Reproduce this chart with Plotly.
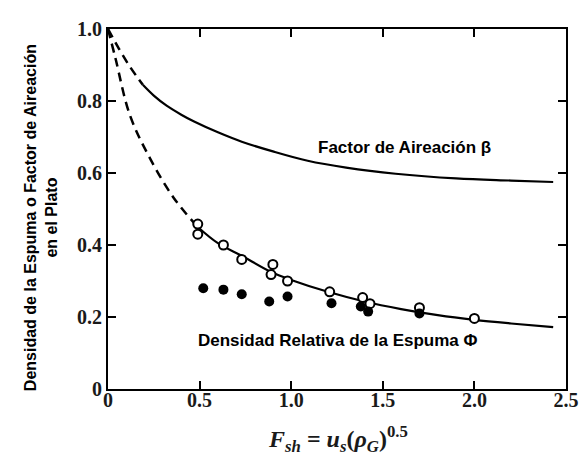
import plotly.graph_objects as go

# Data
beta_dash_F = [0.0, 0.06, 0.12, 0.19]
beta_dash = [1.0, 0.945, 0.895, 0.845]
beta_F = [0.19, 0.25, 0.32, 0.40, 0.47, 0.60, 0.73, 0.90, 1.09, 1.30, 1.57, 1.90, 2.20, 2.43]
beta = [0.845, 0.815, 0.787, 0.762, 0.743, 0.713, 0.687, 0.66, 0.634, 0.615, 0.598, 0.585, 0.579, 0.575]

phi_dash_F = [0.0, 0.04, 0.12, 0.23, 0.36, 0.49]
phi_dash = [1.0, 0.92, 0.76, 0.64, 0.53, 0.45]
phi_F = [0.49, 0.60, 0.73, 0.89, 1.00, 1.20, 1.40, 1.60, 1.80, 2.00, 2.20, 2.43]
phi = [0.45, 0.405, 0.37, 0.325, 0.303, 0.27, 0.243, 0.222, 0.205, 0.192, 0.182, 0.172]

F_open = [0.49, 0.49, 0.63, 0.73, 0.90, 0.89, 0.98, 1.21, 1.39, 1.43, 1.70, 2.00]
phi_open = [0.458, 0.43, 0.40, 0.36, 0.346, 0.318, 0.30, 0.27, 0.254, 0.237, 0.226, 0.196]
F_filled = [0.52, 0.63, 0.73, 0.88, 0.98, 1.22, 1.38, 1.42, 1.70]
phi_filled = [0.28, 0.276, 0.263, 0.243, 0.257, 0.238, 0.229, 0.215, 0.21]

x_tickvals = [0, 0.5, 1.0, 1.5, 2.0, 2.5]
x_ticktext = ["0", "0.5", "1.0", "1.5", "2.0", "2.5"]
y_tickvals = [0, 0.2, 0.4, 0.6, 0.8, 1.0]
y_ticktext = ["0", "0.2", "0.4", "0.6", "0.8", "1.0"]

label_beta = "Factor de Aireación β"
label_phi = "Densidad Relativa de la Espuma Φ"
y_title = "Densidad de la Espuma o Factor de Aireación<br>en el Plato"
x_title = "<b><i>F<sub>sh</sub></i> = <i>u<sub>s</sub></i>(<i>ρ<sub>G</sub></i>)<sup>0.5</sup></b>"

fig = go.Figure()
line_dash = dict(color="black", width=2.5, dash="9px,6px", shape="spline")
line_solid = dict(color="black", width=2.2, shape="spline")

fig.add_trace(go.Scatter(x=beta_dash_F, y=beta_dash, mode="lines", line=line_dash))
fig.add_trace(go.Scatter(x=beta_F, y=beta, mode="lines", line=line_solid))
fig.add_trace(go.Scatter(x=phi_dash_F, y=phi_dash, mode="lines", line=line_dash))
fig.add_trace(go.Scatter(x=phi_F, y=phi, mode="lines", line=line_solid))
fig.add_trace(go.Scatter(x=F_open, y=phi_open, mode="markers",
                         marker=dict(symbol="circle", size=9, color="white",
                                     line=dict(color="black", width=2))))
fig.add_trace(go.Scatter(x=F_filled, y=phi_filled, mode="markers",
                         marker=dict(symbol="circle", size=10, color="black",
                                     line=dict(color="black", width=0))))

tickfont = dict(family="Liberation Serif", size=20, color="#1a1a1a", weight="bold")
fig.update_xaxes(range=[0, 2.5], tickvals=x_tickvals, ticktext=x_ticktext,
                 showgrid=False, zeroline=False, showline=True, linecolor="black",
                 linewidth=2, mirror="allticks", ticks="inside", ticklen=8,
                 tickwidth=2, tickcolor="black", tickfont=tickfont,
                 automargin=False, ticklabelstandoff=-8)
fig.update_yaxes(range=[0, 1.0], tickvals=y_tickvals, ticktext=y_ticktext,
                 showgrid=False, zeroline=False, showline=True, linecolor="black",
                 linewidth=2, mirror="allticks", ticks="inside", ticklen=8,
                 tickwidth=2, tickcolor="black", tickfont=tickfont,
                 automargin=False)

fig.add_annotation(x=0.648, y=0.672, xref="paper", yref="paper",
                   xanchor="center", yanchor="middle",
                   text="<b>" + label_beta + "</b>", showarrow=False,
                   font=dict(family="Arial", size=17, color="black"),
                   bgcolor="white", borderpad=3)
fig.add_annotation(x=0.5, y=0.136, xref="paper", yref="paper",
                   xanchor="center", yanchor="middle",
                   text="<b>" + label_phi + "</b>", showarrow=False,
                   font=dict(family="Arial", size=17, color="black"),
                   bgcolor="white", borderpad=3)
fig.add_annotation(x=-0.146, y=0.475, xref="paper", yref="paper",
                   xanchor="center", yanchor="middle",
                   text="<b>" + y_title + "</b>", showarrow=False, textangle=-90,
                   font=dict(family="Arial", size=16, color="black"))
fig.add_annotation(x=0.502, y=-0.14, xref="paper", yref="paper",
                   xanchor="center", yanchor="middle",
                   text=x_title, showarrow=False,
                   font=dict(family="Liberation Serif", size=24, color="#1a1a1a"))

fig.update_layout(width=582, height=466, showlegend=False,
                  margin=dict(l=108, r=16, t=29, b=77),
                  plot_bgcolor="white", paper_bgcolor="white")

fig.write_html("out.html", config={"displayModeBar": False},
               post_script="document.body.style.margin='0';"
                           "document.body.style.overflow='hidden';")
